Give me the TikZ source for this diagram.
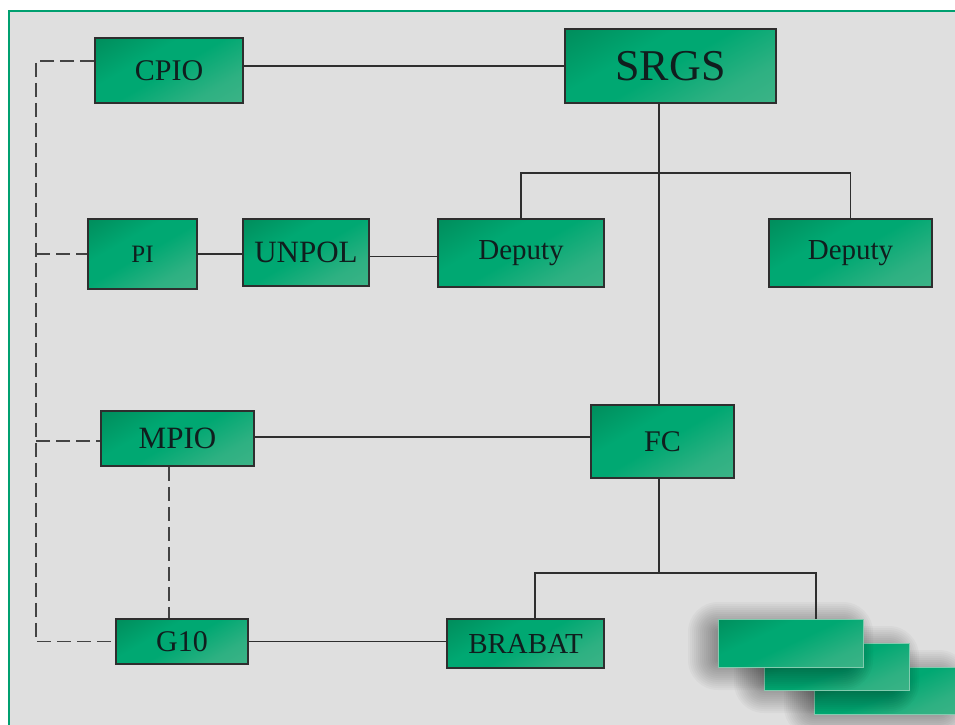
\documentclass[tikz,border=0pt]{standalone}
\usepackage{fontspec}
\setmainfont{Liberation Serif}
\definecolor{bgray}{HTML}{DFDFDF}
\definecolor{frameg}{HTML}{00A070}
\definecolor{gA}{HTML}{007A4C}
\definecolor{gB}{HTML}{00A872}
\definecolor{gC}{HTML}{4CB68C}
\definecolor{lineg}{HTML}{2E2E2E}
\definecolor{txt}{HTML}{101E1E}
\pgfdeclareverticalshading{boxshade}{100bp}{color(0bp)=(gC); color(30bp)=(gC!60!gB); color(50bp)=(gB); color(62bp)=(gB); color(100bp)=(gA)}
\newcommand\myfs[1]{\fontsize{#1}{#1}\selectfont}
\newcommand\softshadow[4]{%
  \foreach \r in {-8,-6,...,20} {
    \pgfmathsetmacro\rc{max(2,\r+10)}
    \fill[black, opacity=0.028, rounded corners=\rc pt] ({#1-10-\r},{#2+3-\r}) rectangle ({#3-10+\r},{#4+3+\r});
  }}
\tikzset{
  box/.style={draw=lineg, line width=1.8pt, shading=boxshade, shading angle=30, text=txt, inner sep=0pt},
  stackbox/.style={draw=gC!70!white, line width=0.6pt, shading=boxshade, shading angle=25, inner sep=0pt, minimum width=145pt, minimum height=47pt},
  conn/.style={draw=lineg, line width=1.6pt},
  dsh/.style={draw=lineg!90!white, line width=1.6pt, dash pattern=on 14pt off 6pt}
}
\begin{document}
\begin{tikzpicture}[x=1pt,y=-1pt]
\useasboundingbox (0,0) rectangle (955,724);
\clip (0,0) rectangle (955,724);
\fill[white] (0,0) rectangle (955,724);
\draw[fill=bgray, draw=frameg, line width=2pt] (9,11) rectangle (975,745);

% nodes
\node[box, minimum width=148pt, minimum height=65pt, font=\myfs{30}] (cpio) at (169,70.5) {CPIO};
\node[box, minimum width=211pt, minimum height=74pt, font=\myfs{44}] (srgs) at (670.5,66) {SRGS};
\node[box, minimum width=109pt, minimum height=70pt, font=\myfs{25}] (pi) at (142.5,254) {PI};
\node[box, minimum width=126pt, minimum height=67pt, font=\myfs{31}] (unpol) at (306,252.5) {UNPOL};
\node[box, minimum width=166pt, minimum height=68pt, font=\myfs{29}] (dep1) at (521,253) {Deputy};
\node[box, minimum width=163pt, minimum height=68pt, font=\myfs{29}] (dep2) at (850.5,253) {Deputy};
\node[box, minimum width=153pt, minimum height=55pt, font=\myfs{31}] (mpio) at (177.5,438.5) {MPIO};
\node[box, minimum width=143pt, minimum height=73pt, font=\myfs{30}] (fc) at (662.5,441.5) {FC};
\node[box, minimum width=132pt, minimum height=45pt, font=\myfs{30}] (g10) at (182,641.5) {G10};
\node[box, minimum width=157pt, minimum height=49pt, font=\myfs{29}] (brabat) at (525.5,643.5) {BRABAT};

% stacked boxes with soft shadows
\softshadow{814}{667}{959}{714}
\node[stackbox] (s3) at (886.5,690.5) {};
\softshadow{764}{643}{909}{690}
\node[stackbox] (s2) at (836.5,666.5) {};
\softshadow{718}{619}{863}{667}
\node[stackbox, minimum height=48pt] (s1) at (790.5,643) {};

% solid connectors
\coordinate (sv) at (659,173);
\coordinate (fb) at (659,573);
\coordinate (bl) at (535,573);
\coordinate (br) at (816,573);
\draw[conn] (cpio.east |- srgs.west) -- (srgs.west);
\draw[conn] (srgs.south -| sv) -- (fc.north -| sv);
\draw[conn] (dep1.north) |- (sv) -| (dep2.north);
\draw[conn] (pi.east) -- (pi.east -| unpol.west);
\draw[conn] ([yshift=-4pt]unpol.east) -- ([yshift=-4pt]unpol.east -| dep1.west);
\draw[conn] ([yshift=1.5pt]mpio.east) -- ([yshift=1.5pt]mpio.east -| fc.west);
\draw[conn] (fc.south -| fb) -- (fb);
\draw[conn] (brabat.north -| bl) -- (bl) -- (br) -- (s1.north -| br);
\draw[conn] (g10.east) -- (g10.east -| brabat.west);

% dashed connectors
\coordinate (dv) at (36,641.5);
\draw[dsh] ([yshift=9.5pt]cpio.west) -| (dv) -- (g10.west);
\draw[dsh] (dv |- pi.west) -- (pi.west);
\draw[dsh] ([yshift=-2.5pt]dv |- mpio.west) -- ([yshift=-2.5pt]mpio.west);
\coordinate (mv) at (169,0);
\draw[dsh] (mpio.south -| mv) -- (g10.north -| mv);
\end{tikzpicture}
\end{document}
